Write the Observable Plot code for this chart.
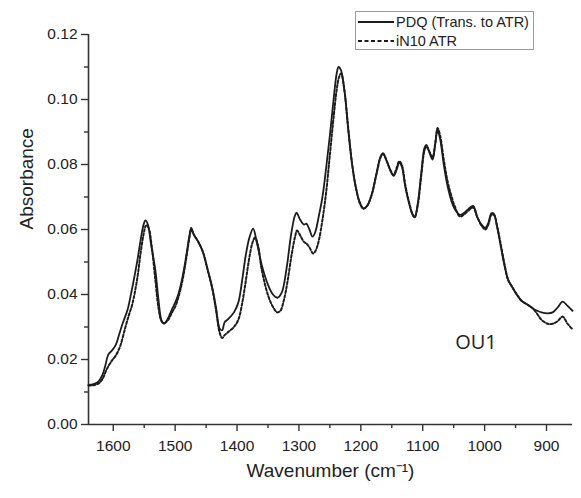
<!DOCTYPE html>
<html>
<head>
<meta charset="utf-8">
<script src="https://cdn.jsdelivr.net/npm/d3@7"></script>
<script src="https://cdn.jsdelivr.net/npm/@observablehq/plot@0.6"></script>
<style>
  html, body { margin: 0; padding: 0; background: #fff; }
  #wrap { position: relative; width: 581px; height: 498px; font-family: "Liberation Sans", Arial, sans-serif; }
  #legend { position: absolute; left: 355px; top: 11px; width: 179px; height: 39px; border: 1px solid #9a9a9a; background: #fff; box-sizing: border-box; }
  .row { position: absolute; left: 1px; height: 18px; display: flex; align-items: center; font-size: 14.5px; color: #222; white-space: nowrap; }
  .row svg { margin-right: 2px; }
</style>
</head>
<body>
<div id="wrap">
  <div id="chart"></div>
  <div id="legend"></div>
</div>
<script>
// Series names
const seriesNames = ["PDQ (Trans. to ATR)", "iN10 ATR"];

// PDQ (Trans. to ATR) — solid
const wavenumberPDQ = [1640,1632,1624,1618,1613,1608,1602,1596,1590,1585,1577,1572,1567,1561,1556,1551,1548,1544,1539,1532,1527,1522,1518,1512,1505,1500,1495,1488,1482,1477,1474,1470,1462,1455,1448,1440,1434,1428,1424,1420,1414,1405,1398,1392,1386,1380,1374,1368,1360,1350,1342,1335,1328,1320,1313,1307,1304,1298,1292,1288,1283,1278,1274,1268,1262,1256,1250,1244,1239,1236,1232,1226,1220,1214,1208,1202,1196,1190,1182,1175,1168,1164,1158,1152,1147,1142,1138,1134,1128,1122,1117,1113,1108,1102,1097,1094,1088,1084,1080,1076,1072,1066,1060,1054,1048,1040,1034,1028,1022,1018,1012,1005,999,994,989,985,980,975,968,962,956,948,940,930,922,915,908,898,890,882,874,866,858];
const absorbancePDQ = [0.0122,0.0124,0.0132,0.0150,0.0180,0.0215,0.0228,0.0245,0.0280,0.0310,0.0352,0.0395,0.0443,0.0505,0.0565,0.0615,0.0628,0.0615,0.0555,0.0475,0.0385,0.0320,0.0310,0.0325,0.0355,0.0375,0.0400,0.0455,0.0520,0.0580,0.0606,0.0585,0.0560,0.0530,0.0480,0.0420,0.0360,0.0295,0.0290,0.0315,0.0325,0.0345,0.0375,0.0440,0.0520,0.0575,0.0603,0.0560,0.0490,0.0430,0.0400,0.0390,0.0405,0.0480,0.0580,0.0640,0.0652,0.0630,0.0615,0.0618,0.0600,0.0578,0.0590,0.0640,0.0700,0.0790,0.0890,0.1000,0.1080,0.1100,0.1090,0.1020,0.0900,0.0800,0.0730,0.0685,0.0665,0.0672,0.0710,0.0770,0.0825,0.0835,0.0810,0.0780,0.0765,0.0785,0.0805,0.0795,0.0730,0.0680,0.0648,0.0637,0.0680,0.0780,0.0852,0.0860,0.0830,0.0815,0.0860,0.0905,0.0880,0.0800,0.0735,0.0690,0.0662,0.0645,0.0650,0.0660,0.0670,0.0672,0.0640,0.0615,0.0605,0.0620,0.0650,0.0648,0.0610,0.0560,0.0490,0.0445,0.0425,0.0400,0.0380,0.0368,0.0357,0.0350,0.0345,0.0342,0.0345,0.0360,0.0378,0.0365,0.0350];

// iN10 ATR — dotted
const wavenumberIN10 = [1640,1632,1624,1618,1610,1602,1596,1589,1581,1575,1569,1561,1556,1551,1547,1543,1538,1532,1527,1522,1518,1512,1505,1500,1495,1488,1482,1477,1474,1470,1462,1455,1448,1440,1434,1428,1424,1420,1414,1405,1398,1392,1386,1380,1375,1371,1366,1360,1350,1342,1335,1330,1324,1318,1312,1306,1303,1298,1292,1288,1283,1277,1273,1268,1262,1256,1250,1244,1239,1235,1232,1227,1220,1214,1208,1202,1196,1190,1182,1175,1168,1164,1158,1152,1147,1142,1138,1134,1128,1122,1117,1113,1108,1102,1097,1094,1088,1084,1080,1076,1072,1066,1060,1054,1048,1040,1034,1028,1022,1018,1012,1005,999,994,989,985,980,975,968,962,956,948,940,930,922,915,908,898,890,882,874,866,858];
const absorbanceIN10 = [0.0120,0.0121,0.0126,0.0138,0.0172,0.0197,0.0212,0.0240,0.0295,0.0335,0.0372,0.0452,0.0525,0.0585,0.0612,0.0605,0.0550,0.0445,0.0360,0.0318,0.0312,0.0320,0.0345,0.0362,0.0390,0.0445,0.0512,0.0575,0.0600,0.0585,0.0560,0.0530,0.0480,0.0418,0.0352,0.0282,0.0266,0.0275,0.0285,0.0300,0.0322,0.0370,0.0440,0.0515,0.0560,0.0575,0.0550,0.0475,0.0398,0.0362,0.0345,0.0350,0.0385,0.0445,0.0520,0.0580,0.0597,0.0582,0.0562,0.0557,0.0545,0.0526,0.0535,0.0565,0.0630,0.0715,0.0830,0.0945,0.1030,0.1070,0.1080,0.1035,0.0905,0.0800,0.0728,0.0683,0.0664,0.0672,0.0710,0.0768,0.0822,0.0832,0.0810,0.0782,0.0768,0.0790,0.0810,0.0800,0.0735,0.0683,0.0650,0.0638,0.0675,0.0772,0.0845,0.0855,0.0835,0.0822,0.0862,0.0912,0.0890,0.0815,0.0750,0.0705,0.0670,0.0640,0.0645,0.0655,0.0665,0.0667,0.0638,0.0612,0.0600,0.0615,0.0645,0.0645,0.0612,0.0565,0.0495,0.0445,0.0425,0.0400,0.0380,0.0368,0.0357,0.0340,0.0322,0.0310,0.0310,0.0318,0.0332,0.0310,0.0293];

// Axes
const xDomain = [1640, 858];
const yDomain = [0, 0.12];
const xTicks = [1600, 1500, 1400, 1300, 1200, 1100, 1000, 900];
const xMinorTicks = [1550, 1450, 1350, 1250, 1150, 1050, 950];
const yTicks = [0, 0.02, 0.04, 0.06, 0.08, 0.10, 0.12];
const yMinorTicks = [0.01, 0.03, 0.05, 0.07, 0.09, 0.11];
const xLabel = "Wavenumber (cm\u207B\u00B9)";
const yLabel = "Absorbance";

// Annotation
const annotation = [{w: 1014, a: 0.0252, text: "OU1"}];

const pdq = wavenumberPDQ.map((w, i) => ({w, a: absorbancePDQ[i]}));
const in10 = wavenumberIN10.map((w, i) => ({w, a: absorbanceIN10[i]}));

const ink = "#1c1c1c";
const font = "'Liberation Sans', Arial, sans-serif";

const chart = Plot.plot({
  width: 581,
  height: 498,
  marginLeft: 88,
  marginRight: 9,
  marginTop: 34,
  marginBottom: 74,
  style: {fontFamily: font, background: "#fff", color: "#222"},
  x: {domain: xDomain},
  y: {domain: yDomain},
  marks: [
    Plot.axisY(yTicks, {tickSize: 7, tickPadding: 4, tickFormat: d3.format(".2f"), fontSize: 15.5, stroke: "#333", strokeWidth: 1.4, label: null}),
    Plot.axisY(yMinorTicks, {tickSize: 4, tickFormat: () => "", stroke: "#333", strokeWidth: 1.4, label: null}),
    Plot.axisX(xTicks, {tickSize: 7, tickPadding: 8, tickFormat: d => String(d), fontSize: 15.5, stroke: "#333", strokeWidth: 1.4, label: null}),
    Plot.axisX(xMinorTicks, {tickSize: 4, tickFormat: () => "", stroke: "#333", strokeWidth: 1.4, label: null}),
    Plot.text([yLabel], {frameAnchor: "left", rotate: -90, dx: -62, fontSize: 19, fill: "#222"}),
    Plot.text([xLabel], {frameAnchor: "bottom", dy: 52, fontSize: 19, fill: "#222"}),
    Plot.ruleY([yDomain[0]], {stroke: "#333", strokeWidth: 1.6}),
    Plot.ruleX([xDomain[0]], {y1: yDomain[0], y2: yDomain[1], stroke: "#333", strokeWidth: 1.6}),
    Plot.line(in10, {x: "w", y: "a", stroke: ink, strokeWidth: 2, strokeDasharray: "2.5,2", curve: "catmull-rom"}),
    Plot.line(pdq, {x: "w", y: "a", stroke: ink, strokeWidth: 1.8, curve: "catmull-rom"}),
    Plot.text(annotation, {x: "w", y: "a", text: "text", fontSize: 20, fill: "#222", fontFamily: "'Open Sans', sans-serif"})
  ]
});
document.getElementById("chart").appendChild(chart);

// Legend (HTML overlay)
const legend = document.getElementById("legend");
const dashes = [null, "4,2.5"];
seriesNames.forEach((name, i) => {
  const row = document.createElement("div");
  row.className = "row";
  row.style.top = (1 + i * 18.5) + "px";
  row.innerHTML = `<svg width="37" height="10"><line x1="1" x2="37" y1="5" y2="5" stroke="${ink}" stroke-width="2" ${dashes[i] ? `stroke-dasharray="${dashes[i]}"` : ""}/></svg><span>${name}</span>`;
  legend.appendChild(row);
});
</script>
</body>
</html>
